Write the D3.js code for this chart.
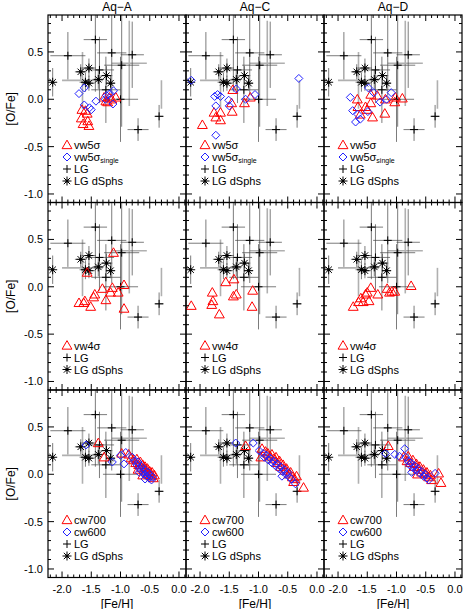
<!DOCTYPE html>
<html>
<head>
<meta charset="utf-8">
<script src="https://cdn.jsdelivr.net/npm/d3@7"></script>
<style>
  body { margin: 0; background: #fff; }
  text { font-family: "Liberation Sans", Arial, sans-serif; }
</style>
</head>
<body>
<div id="chart"></div>
<script>
const columns = ['Aq\u2212A', 'Aq\u2212C', 'Aq\u2212D'];
const xTicks = [-2.0, -1.5, -1.0, -0.5, 0.0];
const yTicks = [-1.0, -0.5, 0.0, 0.5];

// observed LG points: [FeH, OFe, xerr, yerr]
const lgPoints = [
  [-1.90, 0.46, 0.30, 0.25], [-1.43, 0.63, 0.20, 0.55], [-1.15, 0.49, 0.25, 0.45],
  [-0.80, 0.47, 0.20, 0.35], [-0.98, 0.36, 0.30, 0.65], [-1.36, 0.31, 0.25, 0.35],
  [-1.00, 0.00, 0.30, 0.45], [-1.25, 0.10, 0.25, 0.35], [-0.34, -0.18, 0.08, 0.12],
  [-0.70, -0.32, 0.18, 0.12]
];
const lgGrey = [[-0.85, 0.38, 0.30, 0.45], [-1.65, 0.20, 0.35, 0.30], [-0.30, 0.05, 0.0, 0.15]];
const dsphPoints = [
  [-2.16, 0.18, 0.0, 0.15], [-1.68, 0.29, 0.10, 0.08], [-1.54, 0.33, 0.12, 0.10],
  [-1.60, 0.18, 0.10, 0.10], [-1.54, 0.17, 0.10, 0.08], [-1.38, 0.21, 0.10, 0.10],
  [-1.24, 0.25, 0.10, 0.10], [-1.17, 0.17, 0.08, 0.08]
];

// simulation points per row and column
const row1Tri = [
  [[-1.66,-0.11],[-1.67,-0.20],[-1.64,-0.26],[-1.57,-0.15],[-1.56,-0.23],[-1.54,-0.28],[-1.60,-0.12],[-1.25,-0.02],[-1.19,0.02],[-1.15,0.00],[-1.08,0.02],[-1.28,0.02],[-1.22,-0.03]],
  [[-1.96,-0.27],[-1.76,-0.14],[-1.73,-0.19],[-1.65,-0.14],[-1.65,-0.22],[-1.45,-0.13],[-1.46,-0.04],[-1.44,0.10],[-1.24,-0.04],[-1.14,0.02]],
  [[-1.67,0.00],[-1.66,-0.08],[-1.62,-0.16],[-1.50,-0.11],[-1.44,-0.04],[-1.41,-0.19],[-1.33,0.04],[-1.20,-0.15],[-1.19,0.00],[-1.02,0.02],[-0.90,0.01],[-1.03,-0.03],[-1.44,0.05],[-1.53,-0.08]]
];
const row1Dia = [
  [[-1.71,0.06],[-1.62,0.12],[-1.62,-0.06],[-1.53,-0.09],[-1.50,-0.11],[-1.42,-0.02],[-1.24,0.04],[-1.18,0.06],[-1.12,0.09],[-1.13,-0.05],[-1.26,0.00]],
  [[-2.15,0.20],[-1.75,0.03],[-1.70,0.05],[-1.65,0.03],[-1.73,-0.07],[-1.51,-0.01],[-1.50,-0.07],[-1.38,0.11],[-1.22,0.00],[-1.06,0.05],[-0.31,0.22],[-1.73,-0.38]],
  [[-1.79,0.02],[-1.75,-0.12],[-1.70,-0.24],[-1.62,-0.21],[-1.49,-0.13],[-1.48,0.12],[-1.39,0.07],[-1.28,-0.03],[-1.17,0.00],[-1.09,0.07],[-1.66,-0.16]]
];
const row2Tri = [
  [[-1.12,0.36],[-1.57,0.15],[-1.71,-0.17],[-1.63,-0.17],[-1.61,-0.15],[-1.51,-0.21],[-1.46,-0.11],[-1.44,-0.08],[-1.31,-0.02],[-1.25,-0.14],[-1.17,-0.06],[-1.14,-0.01],[-1.04,-0.06],[-0.94,0.02],[-0.94,-0.23]],
  [[-2.15,-0.20],[-1.79,-0.06],[-1.78,-0.15],[-1.80,-0.19],[-1.67,-0.29],[-1.56,0.05],[-1.42,0.08],[-1.43,-0.10],[-1.38,-0.08],[-1.10,-0.04],[-1.11,-0.21]],
  [[-1.74,-0.21],[-1.65,-0.16],[-1.61,-0.12],[-1.57,-0.16],[-1.53,-0.08],[-1.50,-0.06],[-1.47,-0.15],[-1.44,-0.01],[-1.32,-0.08],[-1.16,-0.02],[-1.08,-0.05],[-1.03,-0.05],[-0.75,0.01],[-1.12,-0.06]]
];
const row3Tri = [
  [[-1.38,0.33],[-1.28,0.18],[-0.98,0.22],[-0.86,0.21],[-0.82,0.17],[-0.78,0.15],[-0.74,0.12],[-0.72,0.16],[-0.69,0.10],[-0.66,0.13],[-0.64,0.07],[-0.62,0.10],[-0.60,0.04],[-0.58,0.08],[-0.56,0.02],[-0.54,0.06],[-0.52,0.00],[-0.50,0.03],[-0.48,-0.02],[-0.46,0.02],[-0.44,-0.04],[-0.42,-0.01],[-0.70,0.05],[-0.62,-0.01]],
  [[-1.22,0.30],[-0.96,0.18],[-0.94,0.27],[-0.88,0.24],[-0.84,0.22],[-0.80,0.19],[-0.77,0.21],[-0.74,0.16],[-0.70,0.18],[-0.68,0.12],[-0.64,0.14],[-0.62,0.08],[-0.58,0.10],[-0.55,0.04],[-0.52,0.06],[-0.48,0.00],[-0.45,0.02],[-0.42,-0.03],[-0.38,-0.05],[-0.35,-0.02],[-0.23,-0.14],[-0.40,-0.08]],
  [[-1.14,0.30],[-0.88,0.18],[-0.82,0.14],[-0.80,0.19],[-0.76,0.12],[-0.72,0.15],[-0.70,0.08],[-0.66,0.11],[-0.63,0.05],[-0.60,0.08],[-0.57,0.02],[-0.54,0.05],[-0.51,0.00],[-0.48,0.02],[-0.45,-0.03],[-0.42,-0.01],[-0.40,-0.06],[-0.28,0.01],[-0.24,-0.09],[-0.64,0.00]]
];
const row3Dia = [
  [[-1.59,0.31],[-1.14,0.13],[-0.94,0.11],[-1.00,0.20],[-0.91,0.23],[-0.80,0.18],[-0.76,0.14],[-0.72,0.10],[-0.70,0.13],[-0.67,0.06],[-0.65,0.09],[-0.63,0.03],[-0.61,0.06],[-0.59,0.00],[-0.57,0.04],[-0.55,-0.02],[-0.53,0.02],[-0.51,-0.04],[-0.49,-0.01],[-0.47,-0.06],[-0.45,-0.03],[-0.68,0.02],[-0.58,-0.05]],
  [[-1.39,0.33],[-1.09,0.33],[-0.99,0.25],[-0.92,0.22],[-0.90,0.18],[-0.86,0.20],[-0.83,0.15],[-0.80,0.17],[-0.77,0.12],[-0.74,0.14],[-0.71,0.09],[-0.68,0.11],[-0.65,0.06],[-0.62,0.08],[-0.59,0.03],[-0.56,0.05],[-0.53,0.00],[-0.50,0.02],[-0.47,-0.03],[-0.44,-0.05],[-0.37,-0.10],[-0.60,-0.02]],
  [[-1.19,0.22],[-1.03,0.21],[-0.95,0.19],[-0.86,0.27],[-0.84,0.18],[-0.80,0.14],[-0.78,0.10],[-0.75,0.12],[-0.72,0.07],[-0.69,0.09],[-0.66,0.04],[-0.63,0.06],[-0.60,0.01],[-0.57,0.03],[-0.54,-0.02],[-0.51,0.00],[-0.48,-0.04],[-0.45,-0.06],[-0.34,0.01],[-0.74,0.02]]
];

const legends = [
  [{ m: 'tri', t: 'vw5\u03c3' }, { m: 'dia', t: 'vw5\u03c3', sub: 'single' }, { m: 'plus', t: 'LG' }, { m: 'star', t: 'LG  dSphs' }],
  [{ m: 'tri', t: 'vw4\u03c3' }, { m: 'plus', t: 'LG' }, { m: 'star', t: 'LG  dSphs' }],
  [{ m: 'tri', t: 'cw700' }, { m: 'dia', t: 'cw600' }, { m: 'plus', t: 'LG' }, { m: 'star', t: 'LG  dSphs' }]
];
const legendTop = [130, 143, 130];

const W = 463, H = 609;
const padLeft = 48, pw = 138, padTop = 15, ph = 187.5;
const red = '#ff0000', blue = '#2222ff';

const svg = d3.select('#chart').append('svg').attr('width', W).attr('height', H);
const x = d3.scaleLinear().domain([-2.24, 0.12]).range([0, pw]);
const y = d3.scaleLinear().domain([-1.09, 0.89]).range([ph, 0]);

function drawMarker(g, kind, px, py) {
  if (kind === 'tri') {
    g.append('path').attr('d', d3.symbol(d3.symbolTriangle, 42)())
      .attr('transform', `translate(${px},${py + 0.8})`)
      .attr('fill', 'none').attr('stroke', red).attr('stroke-width', 1);
  } else if (kind === 'dia') {
    g.append('path').attr('d', 'M0,-4L4,0L0,4L-4,0Z')
      .attr('transform', `translate(${px},${py})`)
      .attr('fill', 'none').attr('stroke', blue).attr('stroke-width', 1);
  } else if (kind === 'plus') {
    g.append('path').attr('d', 'M-4,0H4M0,-4V4')
      .attr('transform', `translate(${px},${py})`).attr('stroke', '#000');
  } else {
    g.append('path').attr('d', 'M-4.5,0H4.5M0,-4.5V4.5M-3.2,-3.2L3.2,3.2M-3.2,3.2L3.2,-3.2')
      .attr('transform', `translate(${px},${py})`).attr('stroke', '#000');
    g.append('circle').attr('cx', px).attr('cy', py).attr('r', 1.6).attr('fill', '#000');
  }
}

function errBars(g, data, color, width) {
  data.forEach(d => {
    g.append('line').attr('x1', x(d[0] - d[2])).attr('x2', x(d[0] + d[2]))
      .attr('y1', y(d[1])).attr('y2', y(d[1])).attr('stroke', color).attr('stroke-width', width);
    g.append('line').attr('x1', x(d[0])).attr('x2', x(d[0]))
      .attr('y1', y(d[1] - d[3])).attr('y2', y(d[1] + d[3])).attr('stroke', color).attr('stroke-width', width);
  });
}

const rowsTri = [row1Tri, row2Tri, row3Tri];
const rowsDia = [row1Dia, null, row3Dia];

for (let r = 0; r < 3; r++) {
  for (let c = 0; c < 3; c++) {
    const g = svg.append('g').attr('transform', `translate(${padLeft + c * pw},${padTop + r * ph})`);
    const clip = 'clip' + r + c;
    g.append('clipPath').attr('id', clip).append('rect').attr('width', pw).attr('height', ph);
    const body = g.append('g').attr('clip-path', `url(#${clip})`);

    errBars(body, lgGrey, '#b0b0b0', 1.6);
    errBars(body, lgPoints, '#444', 0.7);
    errBars(body, dsphPoints, '#444', 0.7);
    lgPoints.forEach(d => drawMarker(body, 'plus', x(d[0]), y(d[1])));
    dsphPoints.forEach(d => drawMarker(body, 'star', x(d[0]), y(d[1])));
    rowsTri[r][c].forEach(d => drawMarker(body, 'tri', x(d[0]), y(d[1])));
    if (rowsDia[r]) rowsDia[r][c].forEach(d => drawMarker(body, 'dia', x(d[0]), y(d[1])));

    // frame and inward ticks on all sides
    g.append('rect').attr('width', pw).attr('height', ph)
      .attr('fill', 'none').attr('stroke', '#000').attr('stroke-width', 1.2);
    const ticks = g.append('g').attr('stroke', '#000').attr('stroke-width', 1);
    d3.range(-22, 2).map(v => v / 10).forEach(v => {
      const major = Math.abs(v * 2 - Math.round(v * 2)) < 1e-6;
      const len = major ? 6 : 3;
      const px = x(v);
      ticks.append('line').attr('x1', px).attr('x2', px).attr('y1', ph).attr('y2', ph - len);
      ticks.append('line').attr('x1', px).attr('x2', px).attr('y1', 0).attr('y2', len);
    });
    d3.range(-10, 9).map(v => v / 10).forEach(v => {
      const major = Math.abs(v * 2 - Math.round(v * 2)) < 1e-6;
      const len = major ? 6 : 3;
      const py = y(v);
      ticks.append('line').attr('x1', 0).attr('x2', len).attr('y1', py).attr('y2', py);
      ticks.append('line').attr('x1', pw).attr('x2', pw - len).attr('y1', py).attr('y2', py);
    });

    if (c === 0) {
      yTicks.forEach(v => {
        g.append('text').attr('x', -5).attr('y', y(v) + 4).attr('text-anchor', 'end')
          .attr('font-size', 11).text(d3.format('.1f')(v).replace('\u2212', '-'));
      });
      g.append('text').attr('transform', `translate(-33,${ph / 2}) rotate(-90)`)
        .attr('text-anchor', 'middle').attr('font-size', 12).text('[O/Fe]');
    }
    if (r === 2) {
      xTicks.forEach(v => {
        g.append('text').attr('x', x(v)).attr('y', ph + 15).attr('text-anchor', 'middle')
          .attr('font-size', 11).text(d3.format('.1f')(v).replace('\u2212', '-'));
      });
      g.append('text').attr('x', pw / 2).attr('y', ph + 30).attr('text-anchor', 'middle')
        .attr('font-size', 12).text('[Fe/H]');
    }
    if (r === 0) {
      g.append('text').attr('x', pw / 2).attr('y', -4).attr('text-anchor', 'middle')
        .attr('font-size', 12).text(columns[c]);
    }

    // legend
    legends[r].forEach((e, i) => {
      const ly = legendTop[r] + i * 12;
      drawMarker(g, e.m, 19, ly);
      const t = g.append('text').attr('x', 26).attr('y', ly + 4).attr('font-size', 11)
        .attr('fill', '#000').text(e.t);
      if (e.sub) t.append('tspan').attr('font-size', 7).attr('dy', 2).text(e.sub);
    });
  }
}
</script>
</body>
</html>
